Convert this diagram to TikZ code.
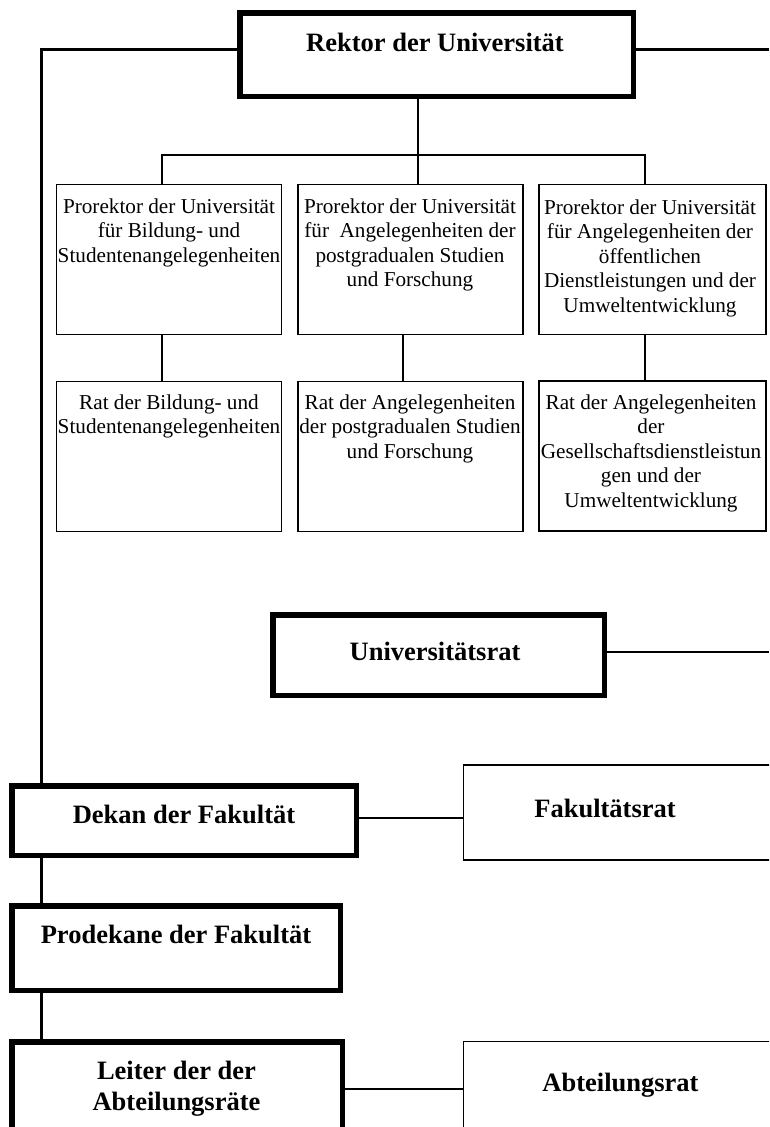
\documentclass[tikz,border=0pt]{standalone}
\usepackage{fontspec}
\setmainfont{Liberation Serif}
\begin{document}
\tikzset{
  thickbox/.style={draw=black, line width=5.5pt, inner sep=0pt, outer sep=0pt, rectangle},
  thinbox/.style={draw=black, line width=1.8pt, inner sep=0pt, outer sep=0pt, rectangle},
  openbox/.style={draw=black, line width=1.3pt, inner sep=0pt, outer sep=0pt, rectangle},
  conn/.style={draw=black, line width=2.2pt},
  rt/.style={inner sep=0pt, align=center, font=\fontsize{21.2pt}{24.5pt}\selectfont},
  bt/.style={inner sep=0pt, align=center, font=\fontsize{26.5pt}{31pt}\selectfont\bfseries}
}
\begin{tikzpicture}[x=1pt,y=-1pt]
\useasboundingbox (0,0) rectangle (769,1127);
\fill[white] (0,0) rectangle (769,1127);
\clip (0,0) rectangle (769,1127);

% boxes
\node[thickbox, minimum width=393.5pt, minimum height=83.5pt] (rektor) at (436.5,54.5) {};
\node[thinbox, minimum width=225pt, minimum height=150pt] (p1) at (169,259.5) {};
\node[thinbox, minimum width=225pt, minimum height=150pt] (p2) at (410.5,259.5) {};
\node[thinbox, minimum width=227pt, minimum height=150pt] (p3) at (652.5,259.5) {};
\node[thinbox, minimum width=225pt, minimum height=150pt] (r1) at (169,456.5) {};
\node[thinbox, minimum width=225pt, minimum height=150pt] (r2) at (410.5,456.5) {};
\node[thinbox, minimum width=227pt, minimum height=150pt] (r3) at (652.5,456) {};
\node[thickbox, minimum width=331.5pt, minimum height=80.5pt] (univ) at (438.5,655) {};
\node[thickbox, minimum width=344.5pt, minimum height=69.5pt] (dekan) at (184,820.5) {};
\node[openbox, minimum width=336pt, minimum height=95pt] (fak) at (631.8,812.5) {};
\node[thickbox, minimum width=328.5pt, minimum height=84.5pt] (prodekane) at (176,948) {};
\node[thickbox, minimum width=330.5pt, minimum height=100pt] (leiter) at (177,1091.75) {};
\node[openbox, minimum width=336pt, minimum height=100pt] (abt) at (631.8,1091.5) {};

% coordinates for connectors
\coordinate (yTop) at (0,49.5);
\coordinate (xL) at (41.5,0);
\coordinate (eR) at (769,49.5);
\coordinate (bus1) at (162,155);
\coordinate (bus2) at (418,155);
\coordinate (bus3) at (645,155);
\coordinate (low2) at (403,0);
\coordinate (eU) at (769,652);
\coordinate (yD) at (0,818);
\coordinate (yL) at (0,1089);

% connectors
\draw[conn] (rektor.west |- yTop) -| (dekan.north -| xL);
\draw[conn] (rektor.east |- yTop) -- (eR);
\draw[conn] (rektor.south -| bus2) -- (p2.north -| bus2);
\draw[conn] (p1.north -| bus1) -- (bus1) -- (bus3) -- (p3.north -| bus3);
\draw[conn] (p1.south -| bus1) -- (r1.north -| bus1);
\draw[conn] (p2.south -| low2) -- (r2.north -| low2);
\draw[conn] (p3.south -| bus3) -- (r3.north -| bus3);
\draw[conn] (univ.east |- eU) -- (eU);
\draw[conn] (dekan.east |- yD) -- (fak.west |- yD);
\draw[conn] (dekan.south -| xL) -- (prodekane.north -| xL);
\draw[conn] (prodekane.south -| xL) -- (leiter.north -| xL);
\draw[conn] (leiter.east |- yL) -- (abt.west |- yL);

% texts
\node[bt, anchor=base] (tRektor) at (435,51) {Rektor der Universität};
\node[rt, anchor=north] (tp1) at (169,198.5) {Prorektor der Universität\\für Bildung- und\\Studentenangelegenheiten};
\node[rt, anchor=north] (tp2) at (410,198.5) {Prorektor der Universität\\für\ \ Angelegenheiten der\\postgradualen Studien\\und Forschung};
\node[rt, anchor=north] (tp3) at (650,199.5) {Prorektor der Universität\\für Angelegenheiten der\\öffentlichen\\Dienstleistungen und der\\Umweltentwicklung};
\node[rt, anchor=north] (tr1) at (169,394.5) {Rat der Bildung- und\\Studentenangelegenheiten};
\node[rt, anchor=north] (tr2) at (410,394.5) {Rat der Angelegenheiten\\der postgradualen Studien\\und Forschung};
\node[rt, anchor=north] (tr3) at (651,394.5) {Rat der Angelegenheiten\\der\\Gesellschaftsdienstleistun\\gen und der\\Umweltentwicklung};
\node[bt, anchor=base] (tUniv) at (435,660) {Universitätsrat};
\node[bt, anchor=base] (tDekan) at (184,823) {Dekan der Fakultät};
\node[bt, anchor=base] (tFak) at (605,817) {Fakultätsrat};
\node[bt, anchor=base] (tPro) at (176,943) {Prodekane der Fakultät};
\node[bt, anchor=north] (tLeiter) at (176.5,1061) {Leiter der der\\Abteilungsräte};
\node[bt, anchor=base] (tAbt) at (620.5,1091) {Abteilungsrat};
\end{tikzpicture}
\end{document}
